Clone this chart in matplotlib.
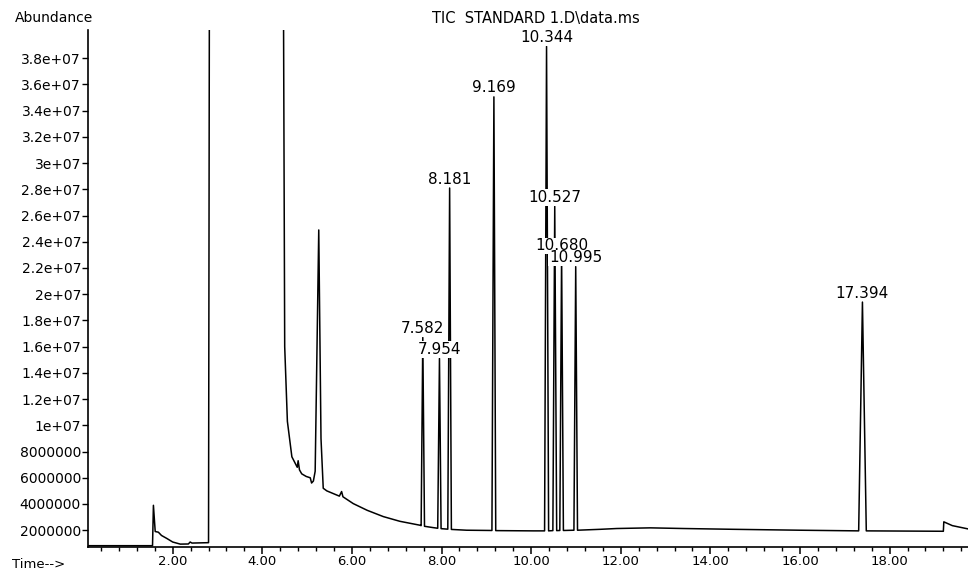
import matplotlib
matplotlib.use('Agg')
import matplotlib.pyplot as plt
from matplotlib.ticker import MultipleLocator

# chromatogram trace (time in min, abundance)
trace_time = [0.11, 1.55, 1.57, 1.61, 1.68, 1.75, 1.87, 2.00, 2.17, 2.35, 2.39, 2.43, 2.80,
              2.82, 4.47, 4.50, 4.56, 4.66, 4.78, 4.80, 4.83, 4.88, 4.98, 5.07, 5.10, 5.14,
              5.18, 5.26, 5.31, 5.36, 5.44, 5.58, 5.72, 5.77, 5.80, 6.03, 6.34, 6.70, 7.07,
              7.52, 7.545, 7.582, 7.62, 7.81, 7.915, 7.954, 7.99, 8.14, 8.181, 8.22, 8.56,
              9.125, 9.169, 9.21, 10.05, 10.30, 10.344, 10.39, 10.485, 10.527, 10.57, 10.64,
              10.68, 10.72, 10.955, 10.995, 11.035, 11.55, 11.91, 12.66, 13.40, 14.50,
              16.00, 17.31, 17.394, 17.48, 19.20, 19.21, 19.40, 19.75]
trace_abund = [0.82e6, 0.82e6, 3.9e6, 1.9e6, 1.85e6, 1.6e6, 1.37e6, 1.1e6, 0.94e6, 0.95e6,
               1.1e6, 1.02e6, 1.05e6,
               4.5e7, 4.5e7, 1.6e7, 1.03e7, 7.6e6, 6.8e6, 7.3e6, 6.6e6, 6.3e6, 6.1e6, 6.0e6,
               5.6e6, 5.75e6,
               6.5e6, 2.49e7, 9.0e6, 5.2e6, 5.0e6, 4.8e6, 4.6e6, 4.95e6, 4.55e6, 4.03e6,
               3.52e6, 3.04e6, 2.68e6,
               2.38e6, 2.35e6, 16.7e6, 2.3e6, 2.2e6, 2.15e6, 15.1e6, 2.12e6, 2.08e6, 28.1e6,
               2.06e6, 2.0e6,
               1.98e6, 35.05e6, 1.97e6, 1.95e6, 1.95e6, 38.9e6, 1.95e6, 1.97e6, 26.7e6,
               1.97e6, 1.98e6,
               23.0e6, 1.98e6, 2.0e6, 22.1e6, 2.0e6, 2.07e6, 2.13e6, 2.18e6, 2.13e6, 2.07e6,
               2.0e6, 1.95e6, 19.4e6, 1.95e6, 1.92e6, 2.64e6, 2.35e6, 2.1e6]

# labelled peaks
peak_labels = ['7.582', '7.954', '8.181', '9.169', '10.344', '10.527', '10.680', '10.995', '17.394']
peak_rt = [7.582, 7.954, 8.181, 9.169, 10.344, 10.527, 10.680, 10.995, 17.394]
peak_top = [16.7e6, 15.1e6, 28.1e6, 35.05e6, 38.9e6, 26.7e6, 23.0e6, 22.1e6, 19.4e6]

y_ticks = [2e6, 4e6, 6e6, 8e6, 1e7, 1.2e7, 1.4e7, 1.6e7, 1.8e7, 2e7, 2.2e7, 2.4e7, 2.6e7,
           2.8e7, 3e7, 3.2e7, 3.4e7, 3.6e7, 3.8e7]
y_tick_labels = ['2000000', '4000000', '6000000', '8000000', '1e+07', '1.2e+07', '1.4e+07',
                 '1.6e+07', '1.8e+07', '2e+07', '2.2e+07', '2.4e+07', '2.6e+07', '2.8e+07',
                 '3e+07', '3.2e+07', '3.4e+07', '3.6e+07', '3.8e+07']
x_ticks = [2, 4, 6, 8, 10, 12, 14, 16, 18]
x_tick_labels = ['2.00', '4.00', '6.00', '8.00', '10.00', '12.00', '14.00', '16.00', '18.00']


def main():
    fig = plt.figure(figsize=(9.68, 5.73), dpi=100)
    ax = fig.add_axes([88 / 968, 26 / 573, 880 / 968, 517 / 573])

    ax.plot(trace_time, trace_abund, color='black', linewidth=1.1, zorder=2)

    for lab, t, h in zip(peak_labels, peak_rt, peak_top):
        ax.annotate(lab, xy=(t, h), xytext=(0, 1), textcoords='offset points',
                    ha='center', va='bottom', fontsize=11, color='black', zorder=5,
                    bbox=dict(facecolor='white', edgecolor='none', pad=0.5))

    ax.set_xlim(0.11, 19.75)
    ax.set_ylim(0.72e6, 40.15e6)

    ax.spines['top'].set_visible(False)
    ax.spines['right'].set_visible(False)
    ax.spines['left'].set_linewidth(1.2)
    ax.spines['bottom'].set_linewidth(1.2)

    ax.set_xticks(x_ticks, x_tick_labels)
    ax.xaxis.set_minor_locator(MultipleLocator(0.4))
    ax.set_yticks(y_ticks, y_tick_labels)
    ax.tick_params(axis='x', which='major', direction='out', length=5, width=1.1,
                   labelsize=9.5, pad=1)
    ax.tick_params(axis='x', which='minor', direction='out', length=3, width=1.0)
    ax.tick_params(axis='y', which='major', direction='out', length=4, width=1.0,
                   labelsize=10, pad=1)

    fig.text(15 / 968, 1 - 18 / 573, 'Abundance', fontsize=10, ha='left', va='center')
    fig.text(536 / 968, 1 - 18 / 573, 'TIC  STANDARD 1.D\\data.ms', fontsize=10.5,
             ha='center', va='center')
    fig.text(12 / 968, 1 - 564 / 573, 'Time-->', fontsize=9.5, ha='left', va='center')

    fig.savefig('out.png', dpi=100)


if __name__ == "__main__":
    main()
